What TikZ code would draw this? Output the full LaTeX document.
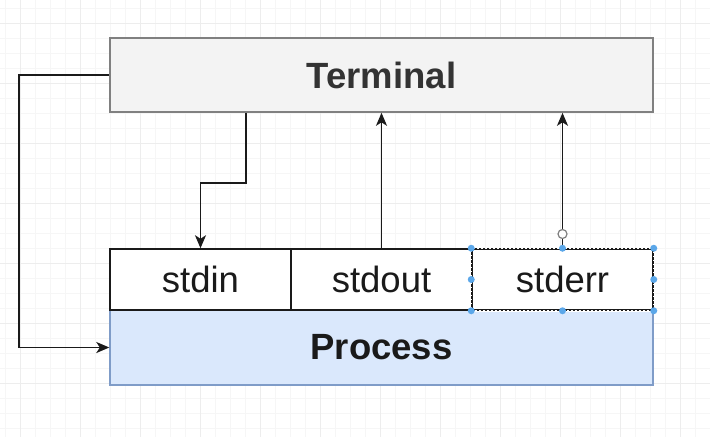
\documentclass[tikz,border=0pt]{standalone}
\usepackage{fontspec}
\setmainfont{Liberation Sans}
\usetikzlibrary{arrows.meta}
\definecolor{termfill}{HTML}{F3F3F3}
\definecolor{termdraw}{HTML}{808080}
\definecolor{termtext}{HTML}{333333}
\definecolor{procfill}{HTML}{DAE8FC}
\definecolor{procdraw}{HTML}{7F9CC8}
\definecolor{handle}{HTML}{5BA7E9}
\definecolor{gridminor}{HTML}{F6F6F6}
\definecolor{gridmajor}{HTML}{EDEDED}
\definecolor{ink}{HTML}{1A1A1A}
\tikzset{
  termbox/.style={draw=termdraw, fill=termfill, line width=1.6pt, minimum width=543pt, minimum height=74pt, inner sep=0pt, font=\fontsize{36.5}{43}\selectfont\bfseries, text=termtext},
  procbox/.style={draw=procdraw, fill=procfill, line width=1.4pt, minimum width=543pt, minimum height=75pt, inner sep=0pt, font=\fontsize{36.5}{43}\selectfont\bfseries, text=ink},
  streambox/.style={draw=ink, fill=white, line width=1.5pt, minimum width=181pt, minimum height=61pt, inner sep=0pt, font=\fontsize{36.5}{43}\selectfont, text=ink},
  conn/.style={draw=ink, line width=1.7pt, -{Stealth[length=13pt,width=11pt,inset=3.5pt]}},
  selhandle/.style={circle, fill=handle, inner sep=0pt, minimum size=7pt},
}
\begin{document}
\begin{tikzpicture}[x=1pt,y=-1pt]
\useasboundingbox (0,0) rectangle (710,437);
\fill[white] (0,0) rectangle (710,437);
\foreach \x in {5,20,...,710} \draw[gridminor, line width=0.8pt] (\x,0) -- (\x,437);
\foreach \y in {8,23,...,437} \draw[gridminor, line width=0.8pt] (0,\y) -- (710,\y);
\foreach \x in {20,80,...,710} \draw[gridmajor, line width=0.8pt] (\x,0) -- (\x,437);
\foreach \y in {23,83,...,437} \draw[gridmajor, line width=0.8pt] (0,\y) -- (710,\y);

\node[termbox] (term) at (381.5,75) {Terminal};
\node[procbox] (proc) at (381.5,347.5) {Process};
\node[streambox] (stdin) at (200.5,279.5) {stdin};
\node[streambox] (stdout) at (381.5,279.5) {stdout};
\node[streambox] (stderr) at (562.5,279.5) {stderr};

\draw[conn] (term.west) -- ++(-90,0) |- (proc.west);
\draw[conn] ([xshift=-135.5pt]term.south) -- ++(0,70) -| (stdin.north);
\draw[conn] (stdout.north) -- (stdout.north |- term.south);
\draw[conn] (stderr.north) -- (stderr.north |- term.south);

% selection decoration on stderr
\draw[white, line width=1.5pt] (stderr.north west) rectangle (stderr.south east);
\draw[ink, line width=1.3pt, dash pattern=on 2.5pt off 1.5pt] (stderr.north west) rectangle (stderr.south east);
\node[circle, draw=gray, fill=white, line width=1.2pt, inner sep=0pt, minimum size=9pt] (waypt) at (562.5,234) {};
\foreach \a in {north west, north, north east, west, east, south west, south, south east}
  \node[selhandle] at (stderr.\a) {};
\end{tikzpicture}
\end{document}
